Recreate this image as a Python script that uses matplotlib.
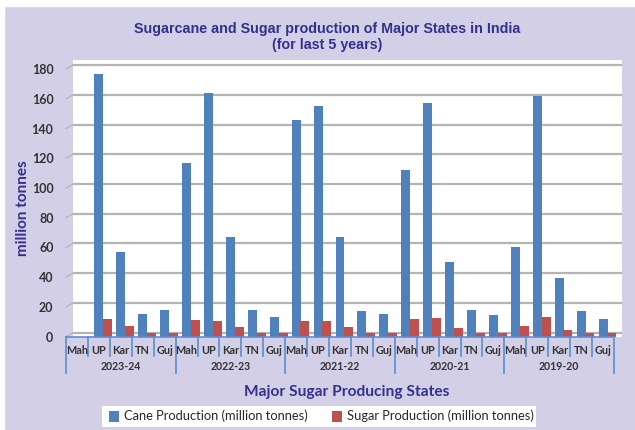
import matplotlib
matplotlib.use("Agg")
import matplotlib.pyplot as plt
from matplotlib import transforms
from matplotlib.patches import Rectangle
import numpy as np

# ---------------- data ----------------
years = ["2023-24", "2022-23", "2021-22", "2020-21", "2019-20"]
states = ["Mah", "UP", "Kar", "TN", "Guj"]
cane = [0, 177, 57, 15, 18,
        117, 164, 67, 18, 13,
        146, 155, 67, 17, 15.5,
        112, 157, 50, 18, 14.5,
        60, 162, 39.5, 17, 12]
sugar = [0, 12, 7, 2.2, 2.2,
         11, 10.5, 6.5, 2.5, 2.5,
         10.5, 10.5, 6.5, 2.5, 2.5,
         12, 12.5, 6, 2.5, 2.5,
         7, 13, 4.5, 2.5, 2.5]
yticks = [0, 20, 40, 60, 80, 100, 120, 140, 160, 180]
title = "Sugarcane and Sugar production of Major States in India\n(for last 5 years)"
xlabel = "Major Sugar Producing States"
ylabel = "million tonnes"
legend_labels = ["Cane Production (million tonnes)", "Sugar Production (million tonnes)"]

# ---------------- style ----------------
W, H = 635, 430
BG = "#d3cfe6"
BLUE = "#4f81bd"
RED = "#c0504d"
NAVY = "#33308f"
SEP = "#5b8dd0"
TXT = "#333333"
GRID = "#b4b4b4"
plt.rcParams["font.family"] = ["Lato", "DejaVu Sans"]

fig = plt.figure(figsize=(W / 100, H / 100), dpi=100)
fig.patch.set_facecolor(BG)
fx = lambda px: px / W
fy = lambda py: 1 - py / H
# white outer margins (left / top)
fig.patches.append(Rectangle((0, 0), fx(4), 1, transform=fig.transFigure, color="white", zorder=0))
fig.patches.append(Rectangle((0, fy(6)), 1, 1 - fy(6), transform=fig.transFigure, color="white", zorder=0))

x_left, x_wall, x_right = 66, 73, 622
y_top, y_base = 60, 336.7
cat_w = (614 - 66) / 25.0
ax = fig.add_axes([fx(x_left), fy(y_base), fx(x_right) - fx(x_left), fy(y_top) - fy(y_base)])
ax.set_facecolor("none")
xmax = -0.5 + (x_right - x_left) / cat_w
ymax = (y_base - y_top) / 1.487
ax.set_xlim(-0.5, xmax)
ax.set_ylim(0, ymax)
for s in ax.spines.values():
    s.set_visible(False)

xw = -0.5 + (x_wall - x_left) / cat_w
# white back wall
ax.add_patch(Rectangle((xw, 0), xmax - xw, ymax, facecolor="white", edgecolor="none", zorder=0))
# gridlines (back wall, slightly raised) and diagonal tick stubs
dz = 2.7
for v in yticks:
    ax.plot([xw, xmax], [v + dz, v + dz], color=GRID, lw=1.6, zorder=1, solid_capstyle="butt")
    ax.plot([-0.5, xw], [v, v + dz], color=GRID, lw=0.9, zorder=1, clip_on=False)

x = np.arange(len(cane))
bw = 0.41
ax.bar(x + 0.0, cane, width=bw, color=BLUE, zorder=3)
ax.bar(x + 0.4, sugar, width=bw, color=RED, zorder=3)

ax.set_xticks([])
ax.set_yticks(yticks)
ax.set_yticklabels([str(v) for v in yticks], fontsize=9, fontweight="bold", color=TXT)
ax.tick_params(axis="y", length=0, pad=9)

# category table under the axis
bt = transforms.blended_transform_factory(ax.transData, fig.transFigure)
ax.plot([-0.5, 24.5], [0, 0], color=SEP, lw=1.2, clip_on=False, zorder=4)
for i in range(26):
    xs = i - 0.5
    bottom = 373 if i % 5 == 0 else 356
    ax.plot([xs, xs], [fy(337), fy(bottom)], color=SEP, lw=1.2, transform=bt, clip_on=False)
for i in range(25):
    t = fig.text(0, fy(350), states[i % 5], transform=bt, fontsize=7.8, fontweight="bold",
                 color=TXT, ha="center", va="center")
    t.set_x(i)
for g, yr in enumerate(years):
    t = fig.text(0, fy(367), yr, transform=bt, fontsize=7.6, fontweight="bold",
                 color=TXT, ha="center", va="center")
    t.set_x(g * 5 + 2)

# titles
fig.text(fx(327), fy(37), title, ha="center", va="center", fontsize=10.3, fontweight="bold",
         color=NAVY, family=["Liberation Sans Narrow", "Liberation Sans"], linespacing=1.2)
fig.text(fx(347), fy(392), xlabel, ha="center", va="center", fontsize=11.2, fontweight="bold", color=NAVY)
fig.text(fx(23), fy(208), ylabel, ha="center", va="center", rotation=90, fontsize=11,
         fontweight="bold", color=NAVY)

# legend
fig.patches.append(Rectangle((fx(102), fy(427)), fx(536) - fx(102), fy(406) - fy(427),
                             transform=fig.transFigure, facecolor="white", edgecolor="none", zorder=1))
for (sx, tx), col, lab in zip([(109, 124), (332, 347)], [BLUE, RED], legend_labels):
    fig.patches.append(Rectangle((fx(sx), fy(421.5)), fx(10), fy(411) - fy(421.5),
                                 transform=fig.transFigure, facecolor=col, edgecolor="none", zorder=2))
    fig.text(fx(tx), fy(416), lab, ha="left", va="center", fontsize=9.3, color="#262626", zorder=3)

fig.savefig("out.png", dpi=100, facecolor=BG)
